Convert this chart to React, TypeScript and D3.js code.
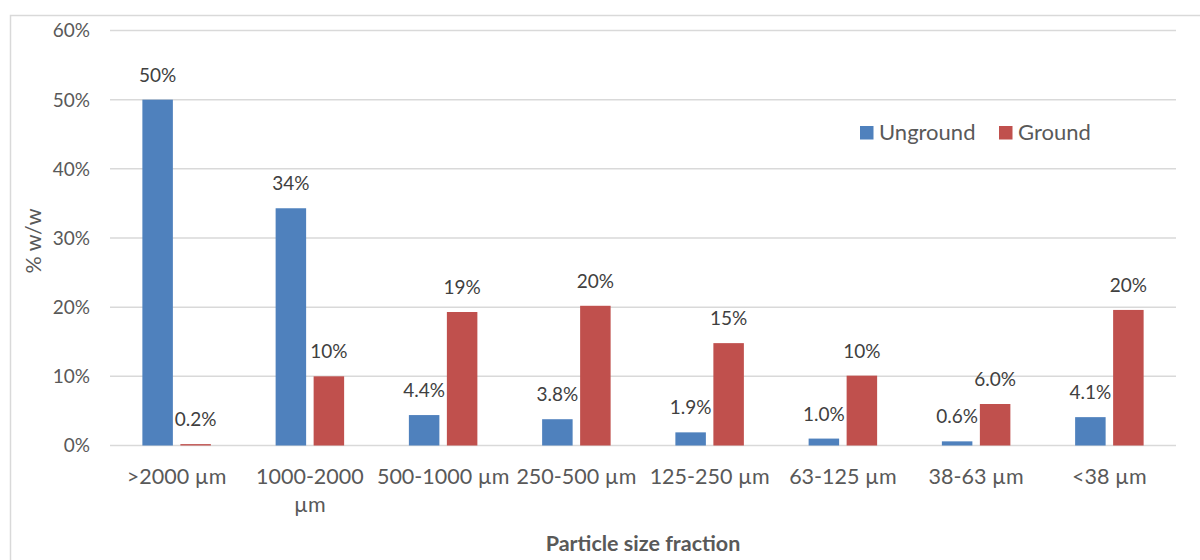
import React, { useEffect, useRef } from "react";
import * as d3 from "d3";

const categories = [
  [">2000 µm"],
  ["1000-2000", "µm"],
  ["500-1000 µm"],
  ["250-500 µm"],
  ["125-250 µm"],
  ["63-125 µm"],
  ["38-63 µm"],
  ["<38 µm"],
];
const seriesNames = ["Unground", "Ground"];
const unground = [50.0, 34.3, 4.4, 3.8, 1.9, 1.0, 0.6, 4.1];
const ground = [0.2, 10.0, 19.3, 20.2, 14.8, 10.1, 6.0, 19.6];
const valueLabelsUnground = ["50%", "34%", "4.4%", "3.8%", "1.9%", "1.0%", "0.6%", "4.1%"];
const valueLabelsGround = ["0.2%", "10%", "19%", "20%", "15%", "10%", "6.0%", "20%"];
const yTicks = [0, 10, 20, 30, 40, 50, 60];

const colors = ["#4F81BD", "#C0504D"];
const FONT = "Lato, 'Open Sans', sans-serif";

export default function App() {
  const ref = useRef<SVGSVGElement>(null);

  useEffect(() => {
    const width = 1200;
    const height = 560;
    const svg = d3.select(ref.current).attr("width", width).attr("height", height).html("");

    svg.append("rect").attr("width", width).attr("height", height).attr("fill", "#fff");

    // outer chart border
    svg.append("rect")
      .attr("x", 10.5).attr("y", 15.5)
      .attr("width", 1200).attr("height", 600)
      .attr("fill", "none").attr("stroke", "#D9D9D9").attr("stroke-width", 1.5);

    const left = 110, right = 1176, top = 30.5, bottom = 445.5;

    const x = d3.scaleBand<number>().domain(d3.range(categories.length)).range([left, right]);
    const y = d3.scaleLinear().domain([0, 60]).range([bottom, top]);

    const barW = 30.5;
    const innerGap = 7.5;
    const groupW = barW * 2 + innerGap;
    const barX = (i: number, s: number) =>
      x(i)! + x.bandwidth() / 2 - groupW / 2 + s * (barW + innerGap);

    // gridlines
    svg.append("g").selectAll("line").data(yTicks).enter().append("line")
      .attr("x1", left).attr("x2", right)
      .attr("y1", d => y(d)).attr("y2", d => y(d))
      .attr("stroke", "#D9D9D9").attr("stroke-width", 1.5);

    // y tick labels
    svg.append("g").selectAll("text").data(yTicks).enter().append("text")
      .attr("x", 90).attr("y", d => y(d)).attr("dy", "0.36em")
      .attr("text-anchor", "end")
      .style("font-family", FONT).style("font-size", "19px")
      .attr("fill", "#595959")
      .text(d => `${d}%`);

    // bars + labels
    const series = [unground, ground];
    const labels = [valueLabelsUnground, valueLabelsGround];
    series.forEach((vals, s) => {
      const g = svg.append("g");
      g.selectAll("rect").data(vals).enter().append("rect")
        .attr("x", (_, i) => barX(i, s))
        .attr("y", d => y(d))
        .attr("width", barW)
        .attr("height", d => bottom - y(d))
        .attr("fill", colors[s]);
      g.selectAll("text").data(vals).enter().append("text")
        .attr("x", (_, i) => barX(i, s) + barW / 2)
        .attr("y", d => y(d) - 18)
        .attr("text-anchor", "middle")
        .style("font-family", FONT).style("font-size", "19px")
        .attr("fill", "#404040")
        .text((_, i) => labels[s][i]);
    });

    // category labels
    const cat = svg.append("g");
    categories.forEach((lines, i) => {
      const t = cat.append("text")
        .attr("text-anchor", "middle")
        .style("font-family", FONT).style("font-size", "21.5px")
        .attr("fill", "#595959");
      lines.forEach((ln, k) => {
        t.append("tspan")
          .attr("x", x(i)! + x.bandwidth() / 2)
          .attr("y", 484 + k * 28)
          .text(ln);
      });
    });

    // axis titles
    svg.append("text")
      .attr("x", 643).attr("y", 551)
      .attr("text-anchor", "middle")
      .style("font-family", FONT).style("font-size", "21.5px").style("font-weight", "bold")
      .attr("fill", "#595959")
      .text("Particle size fraction");

    svg.append("text")
      .attr("transform", "translate(41,241) rotate(-90)")
      .attr("text-anchor", "middle")
      .style("font-family", FONT).style("font-size", "21.5px")
      .attr("fill", "#595959")
      .text("% w/w");

    // legend
    const legendPos = [860, 999];
    seriesNames.forEach((name, s) => {
      svg.append("rect")
        .attr("x", legendPos[s]).attr("y", 126)
        .attr("width", 13.5).attr("height", 13.5)
        .attr("fill", colors[s]);
      svg.append("text")
        .attr("x", legendPos[s] + 19).attr("y", 140)
        .style("font-family", FONT).style("font-size", "22px")
        .attr("fill", "#595959")
        .text(name);
    });
  }, []);

  return <svg ref={ref} style={{ position: "absolute", left: 0, top: 0 }} />;
}
